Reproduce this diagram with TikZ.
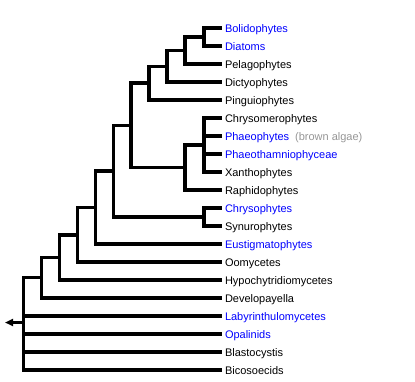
\documentclass[tikz,border=0pt]{standalone}
\usepackage{fontspec}
\setmainfont{Liberation Sans}
\usetikzlibrary{arrows.meta}
\definecolor{linkblue}{RGB}{0,0,255}
\definecolor{notegray}{RGB}{150,150,150}
\tikzset{
  branch/.style={line width=3.5pt, line join=miter, line cap=butt, black},
  taxon/.style={anchor=base west, inner sep=0pt, font=\fontsize{11}{13}\selectfont, text=black},
  linked/.style={taxon, text=linkblue},
}
\begin{document}
\begin{tikzpicture}[x=1pt,y=-1pt]
\useasboundingbox (0,0) rectangle (415,381);
% leaves
\foreach \i/\name/\sty in {0/Bolidophytes/linked,1/Diatoms/linked,2/Pelagophytes/taxon,3/Dictyophytes/taxon,4/Pinguiophytes/taxon,5/Chrysomerophytes/taxon,6/Phaeophytes/linked,7/Phaeothamniophyceae/linked,8/Xanthophytes/taxon,9/Raphidophytes/taxon,10/Chrysophytes/linked,11/Synurophytes/taxon,12/Eustigmatophytes/linked,13/Oomycetes/taxon,14/Hypochytridiomycetes/taxon,15/Developayella/taxon,16/Labyrinthulomycetes/linked,17/Opalinids/linked,18/Blastocystis/taxon,19/Bicosoecids/taxon}{
  \coordinate (e\i) at (221.5,{28+18*\i});
  \node[\sty] (t\i) at (224.8,{32+18*\i}) {\name};
}
\node[taxon, text=notegray, anchor=base west] (note) at ([xshift=5.5pt]t6.base east) {(brown algae)};
% internal nodes
\coordinate (A) at (204,37);
\coordinate (B) at (185,50.5);
\coordinate (C) at (167,66.25);
\coordinate (D) at (149,83.1);
\coordinate (F) at (204,145);
\coordinate (G) at (185,167.5);
\coordinate (E) at (131,125.3);
\coordinate (I) at (204,217);
\coordinate (H) at (113.5,171.2);
\coordinate (J) at (95.5,207.6);
\coordinate (K) at (77.5,234.8);
\coordinate (L) at (59.5,257.4);
\coordinate (M) at (41.5,277.7);
\coordinate (R) at (23.5,323.8);
\coordinate (arrowtip) at (5,322.5);
% branches
\draw[branch] (e0) -| (A) |- (e1);
\draw[branch] (A) -| (B) |- (e2);
\draw[branch] (B) -| (C) |- (e3);
\draw[branch] (C) -| (D) |- (e4);
\draw[branch] (e5) -| (F) |- (e8);
\draw[branch] (F |- e6) -- (e6);
\draw[branch] (F |- e7) -- (e7);
\draw[branch] (F) -| (G) |- (e9);
\draw[branch] (D) -| (E) |- (G);
\draw[branch] (e10) -| (I) |- (e11);
\draw[branch] (E) -| (H) |- (I);
\draw[branch] (H) -| (J) |- (e12);
\draw[branch] (J) -| (K) |- (e13);
\draw[branch] (K) -| (L) |- (e14);
\draw[branch] (L) -| (M) |- (e15);
\draw[branch] (M) -| (R) |- (e19);
\draw[branch] (R |- e16) -- (e16);
\draw[branch] (R |- e17) -- (e17);
\draw[branch] (R |- e18) -- (e18);
\draw[branch, -{Triangle[length=8pt,width=7pt]}] (R |- arrowtip) -- (arrowtip);
\end{tikzpicture}
\end{document}
